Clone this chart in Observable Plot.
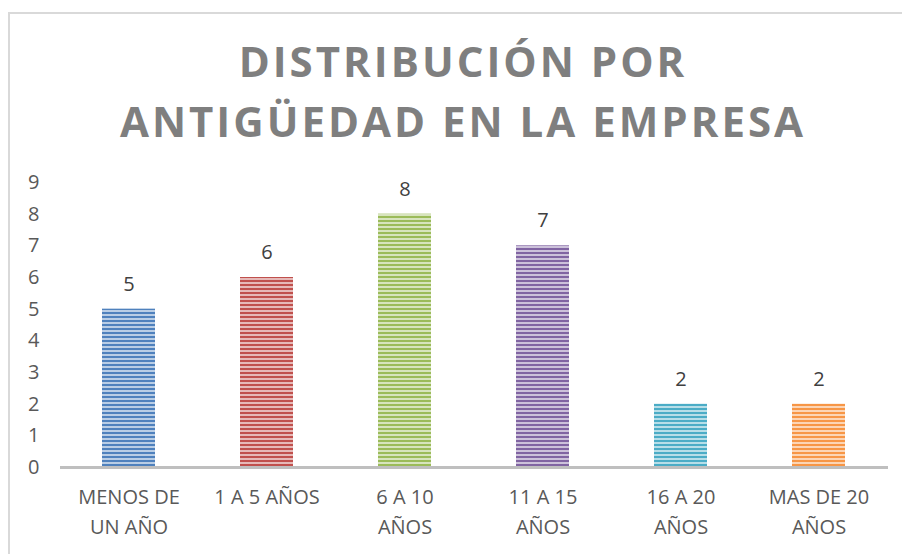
<!DOCTYPE html>
<html>
<head>
<meta charset="utf-8">
<script src="https://cdn.jsdelivr.net/npm/d3@7"></script>
<script src="https://cdn.jsdelivr.net/npm/@observablehq/plot@0.6"></script>
<style>
  html, body { margin: 0; padding: 0; background: #fff; width: 902px; height: 554px; overflow: hidden; }
  #frame { position: absolute; left: 8px; top: 12px; width: 1000px; height: 1000px; border-left: 2px solid #d9d9d9; border-top: 2px solid #d9d9d9; box-sizing: border-box; }
  #title { position: absolute; left: 0; top: 31px; width: 926px; text-align: center; font-family: "Open Sans", sans-serif; font-weight: 700; font-size: 42px; letter-spacing: 3px; line-height: 60px; color: #7f7f7f; }
  #chart { position: absolute; left: 0; top: 160px; }
</style>
</head>
<body>
<div id="frame"></div>
<div id="title">DISTRIBUCIÓN POR<br>ANTIGÜEDAD EN LA EMPRESA</div>
<div id="chart"></div>
<script>
const categories = ["MENOS DE\nUN AÑO", "1 A 5 AÑOS", "6 A 10\nAÑOS", "11 A 15\nAÑOS", "16 A 20\nAÑOS", "MAS DE 20\nAÑOS"];
const values = [5, 6, 8, 7, 2, 2];
const colors = ["#4f81bd", "#c0504d", "#9bbb59", "#8064a2", "#4bacc6", "#f79646"];
const yTicks = [0, 1, 2, 3, 4, 5, 6, 7, 8, 9];

const data = categories.map((c, i) => ({cat: c, value: values[i], pat: `url(#pat${i})`}));

const font = '"Open Sans", sans-serif';

const plot = Plot.plot({
  width: 902,
  height: 390,
  marginTop: 22,
  marginBottom: 83,
  marginLeft: 60,
  marginRight: 14,
  style: {fontFamily: font, background: "transparent", color: "#595959"},
  x: {domain: categories, paddingInner: 0.615, paddingOuter: 0.3075, align: 0.5, label: null},
  y: {domain: [0, 9], label: null},
  color: {type: "identity"},
  marks: [
    Plot.barY(data, {x: "cat", y: "value", fill: "pat"}),
    Plot.ruleY([0], {stroke: "#bfbfbf", strokeWidth: 3}),
    Plot.text(data, {x: "cat", y: "value", text: d => String(d.value), dy: -25, fontSize: 20, fill: "#404040", lineAnchor: "middle"}),
    Plot.axisY({ticks: yTicks, tickSize: 0, tickPadding: 21, fontSize: 20, fill: "#595959", label: null}),
    Plot.axisX({tickSize: 0, tickPadding: 16, fontSize: 20, fill: "#595959", lineHeight: 1.47, label: null})
  ]
});

// stripe patterns
const svg = d3.select(plot);
const defs = svg.insert("defs", ":first-child");
colors.forEach((c, i) => {
  const light = d3.interpolateRgb(c, "#ffffff")(0.6);
  const p = defs.append("pattern")
    .attr("id", `pat${i}`)
    .attr("patternUnits", "userSpaceOnUse")
    .attr("width", 8).attr("height", 4);
  p.append("rect").attr("width", 8).attr("height", 4).attr("fill", light);
  p.append("rect").attr("width", 8).attr("height", 2).attr("fill", c);
});

document.getElementById("chart").appendChild(plot);
</script>
</body>
</html>
